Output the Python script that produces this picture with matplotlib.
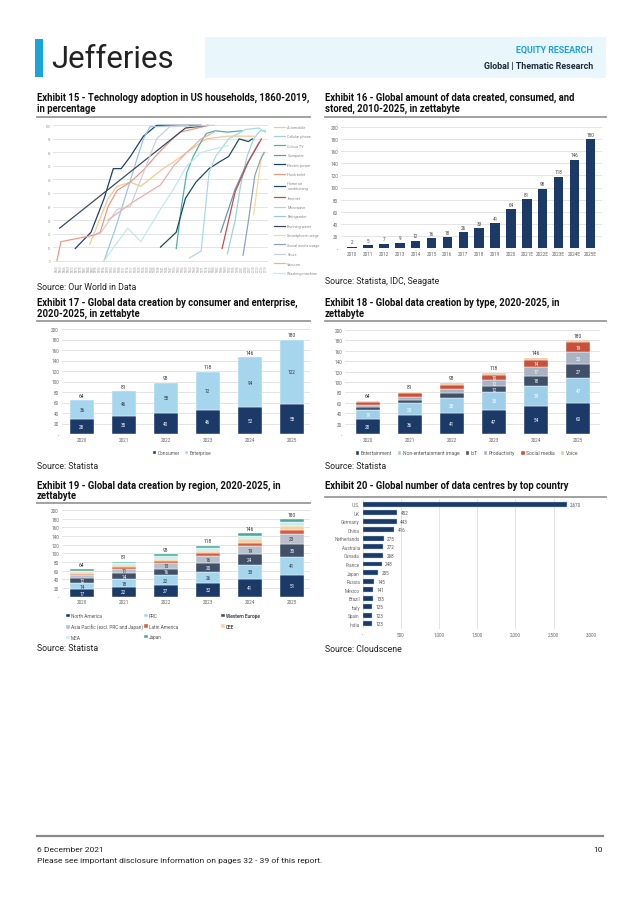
import numpy as np
import matplotlib
matplotlib.use('Agg')
import matplotlib.pyplot as plt
from matplotlib.patches import Rectangle
from matplotlib.lines import Line2D

W, H = 638, 903
plt.rcParams['font.family'] = ['Roboto', 'DejaVu Sans']

NAVY = '#1b3a68'
LBLUE = '#a6d6ee'
SLATE = '#3f5068'
GRID = '#d9d9d9'
TICK = '#666666'

# ---- Exhibit 15: technology adoption (year, %) ----
tech_names = ['Automobile', 'Cellular phone', 'Colour TV', 'Computer', 'Electric power',
              'Flush toilet', 'Home air\nconditioning', 'Internet', 'Microwave', 'Refrigerator',
              'Running water', 'Smartphone usage', 'Social media usage', 'Stove', 'Vacuum',
              'Washing machine']
tech_colors = ['#f3c995', '#9ed6cf', '#4db3a6', '#6f93b8', '#1f3f6e', '#eb9a84', '#1d4b5f',
               '#c0504d', '#a7dce4', '#9cc5e2', '#3b4b5e', '#f2dc98', '#8fa3b8', '#cdd1d6',
               '#eab0aa', '#c4e8ec']
tech_data = [
    [(1885, 12), (1899, 46), (1906, 55), (1916, 58), (1924, 55), (1941, 68), (1949, 73), (1959, 80), (1974, 90), (1990, 92), (2010, 92)],
    [(1990, 5), (1996, 30), (2000, 55), (2005, 77), (2010, 90), (2015, 96), (2019, 96)],
    [(1951, 9), (1955, 40), (1959, 65), (1964, 77), (1970, 88), (1974, 94), (1981, 96), (1990, 95), (2001, 96)],
    [(1985, 21), (1996, 53), (2004, 70), (2014, 87)],
    [(1874, 9), (1886, 21), (1896, 46), (1903, 68), (1909, 68), (1916, 77), (1926, 92), (1936, 100), (1970, 100)],
    [(1860, 0), (1863, 14), (1889, 19), (1893, 21), (1899, 40), (1906, 52), (1916, 58), (1926, 67), (1936, 78), (1946, 88), (1954, 95), (1976, 100)],
    [(1939, 10), (1951, 21), (1958, 46), (1966, 58), (1976, 68), (1984, 73), (1991, 77), (1999, 90), (2006, 88), (2009, 90)],
    [(1986, 9), (1996, 51), (2006, 73), (2016, 90)],
    [(1961, 2), (1970, 7), (1976, 65), (1981, 77), (1991, 90), (2004, 97), (2014, 98), (2019, 95)],
    [(1896, 0), (1905, 25), (1914, 53), (1921, 75), (1926, 90), (1931, 99), (1960, 100)],
    [(1862, 24), (1958, 98), (1975, 100)],
    [(2010, 34), (2014, 63), (2016, 77), (2019, 80)],
    [(2002, 4), (2006, 29), (2011, 63), (2015, 74), (2018, 80)],
    [(1893, 20), (1906, 38), (1916, 40), (1926, 65), (1936, 90), (1946, 99), (1980, 100)],
    [(1899, 30), (1916, 42), (1929, 50), (1939, 56), (1949, 70), (1959, 80), (1970, 90), (1980, 95)],
    [(1896, 0), (1914, 24), (1924, 14), (1939, 38), (1949, 53), (1959, 70), (1970, 80), (1990, 85)],
]

# ---- Exhibit 16 ----
e16_years = ['2010', '2011', '2012', '2013', '2014', '2015', '2016', '2017', '2018', '2019',
             '2020', '2021E', '2022E', '2023E', '2024E', '2025E']
e16_vals = [2, 5, 7, 9, 12, 16, 18, 26, 33, 41, 64, 81, 98, 118, 146, 180]

# ---- Exhibit 17 ----
years6 = ['2020', '2021', '2022', '2023', '2024', '2025']
consumer = [28, 35, 40, 46, 52, 58]
enterprise = [36, 46, 58, 72, 94, 122]

# ---- Exhibit 18 ----
e18_names = ['Entertainment', 'Non-entertainment image', 'IoT', 'Productivity', 'Social media', 'Voice']
e18_colors = [NAVY, '#9fcfe8', SLATE, '#a9b3c1', '#c9503a', '#e9c99b']
e18_txt = ['white', 'white', 'white', 'white', 'white', '#333333']
entertainment = [28, 36, 41, 47, 54, 60]
non_ent_image = [19, 23, 28, 33, 39, 47]
iot = [4, 6, 9, 12, 18, 27]
productivity = [5, 6, 8, 12, 17, 23]
social_media = [5, 7, 8, 10, 14, 19]
voice = [3, 3, 4, 4, 4, 4]

# ---- Exhibit 19 ----
e19_names = ['North America', 'PRC', 'Western Europe', 'Asia Pacific (excl. PRC and Japan)',
             'Latin America', 'CEE', 'MEA', 'Japan']
e19_colors = [NAVY, '#a6d6ee', SLATE, '#b9c0cb', '#d95b3b', '#f4d2a2', '#c9eef0', '#4aa894']
e19_txt = ['white', '#333333', 'white', '#333333', 'white', '#333333', '#333333', 'white']
north_america = [17, 22, 27, 32, 41, 51]
prc = [14, 18, 22, 26, 33, 41]
western_europe = [12, 14, 16, 20, 24, 30]
apj = [7, 11, 13, 16, 19, 23]
latin_america = [3, 4, 5, 6, 7, 9]
cee = [3, 4, 5, 6, 8, 9]
mea = [4, 4, 5, 6, 7, 9]
japan = [4, 4, 5, 6, 7, 8]

# ---- Exhibit 20 ----
countries = ['U.S.', 'UK', 'Germany', 'China', 'Netherlands', 'Australia', 'Canada', 'France',
             'Japan', 'Russia', 'Mexico', 'Brazil', 'Italy', 'Spain', 'India']
centres = [2670, 452, 443, 416, 275, 272, 268, 248, 205, 145, 141, 133, 125, 123, 123]

fig = plt.figure(figsize=(W / 100, H / 100), dpi=100)


def box(x0, y0, x1, y1):
    return fig.add_axes([x0 / W, 1 - y1 / H, (x1 - x0) / W, (y1 - y0) / H])


def txt(x, y, s, **kw):
    fig.text(x / W, 1 - y / H, s, **kw)


def rect(x0, y0, x1, y1, c):
    fig.add_artist(Rectangle((x0 / W, 1 - y1 / H), (x1 - x0) / W, (y1 - y0) / H,
                             transform=fig.transFigure, color=c, lw=0))


def hline(x0, x1, y, c='#9a9a9a', lw=1.3):
    fig.add_artist(Line2D([x0 / W, x1 / W], [1 - y / H, 1 - y / H], transform=fig.transFigure,
                          color=c, lw=lw))


def title(x, y, s):
    txt(x, y, s, fontsize=6.85, fontweight='bold', va='top', color='#111111', linespacing=1.05)


def source(x, y, s):
    txt(x, y, s, fontsize=6.3, va='center', color='#222222')


def clean(ax):
    for s in ax.spines.values():
        s.set_visible(False)
    ax.tick_params(length=0, labelsize=3.3, labelcolor=TICK, pad=2)


def ylab(ax, top):
    ticks = list(range(0, top + 1, 20))
    ax.set_yticks(ticks)
    ax.set_yticklabels(['-'] + [str(t) for t in ticks[1:]])
    ax.set_ylim(0, top)
    ax.yaxis.grid(True, color=GRID, lw=0.5)
    ax.set_axisbelow(True)


def stacked(ax, series, colors, names, tcols, minlab):
    x = np.arange(len(years6))
    bottom = np.zeros(len(years6))
    for vals, c, n, tc in zip(series, colors, names, tcols):
        vals = np.array(vals, dtype=float)
        ax.bar(x, vals, 0.58, bottom=bottom, color=c, label=n, edgecolor='white', lw=0.3)
        for xi, b, v in zip(x, bottom, vals):
            if v >= minlab:
                ax.text(xi, b + v / 2, '%d' % v, ha='center', va='center', fontsize=3.3, color=tc)
        bottom += vals
    for xi, t in zip(x, bottom):
        ax.text(xi, t + 5, '%d' % t, ha='center', va='bottom', fontsize=3.5, color='#333333')
    ax.set_xticks(x)
    ax.set_xticklabels(years6)


LEG = dict(frameon=False, handlelength=0.7, handleheight=0.7, borderpad=0,
           handletextpad=0.3, labelcolor='#555555', bbox_transform=fig.transFigure)

# ---- header ----
rect(35, 40, 43, 78, '#1ba3dc')
txt(51, 60, 'Jefferies', fontsize=22.5, va='center', color='#222222')
rect(205, 38, 606, 79, '#e9f6fc')
txt(593, 50, 'EQUITY RESEARCH', fontsize=6.4, fontweight='bold', ha='right', va='center', color='#1ba3dc')
txt(593, 66, 'Global | Thematic Research', fontsize=6.4, fontweight='bold', ha='right', va='center', color='#1d2b3a')

# ---- Exhibit 15 ----
title(37, 93, 'Exhibit 15 - Technology adoption in US households, 1860-2019,\nin percentage')
hline(37, 310, 118)
ax = box(53, 125, 268, 263)
for pts, c, n in zip(tech_data, tech_colors, tech_names):
    ax.plot([p[0] for p in pts], [p[1] for p in pts], color=c, lw=0.9, label=n)
ax.set_xlim(1857, 2021)
ax.set_ylim(-1, 101)
ax.set_yticks(range(0, 101, 10))
ax.set_xticks(range(1860, 2020, 3))
ax.set_xticklabels([str(v) for v in range(1860, 2020, 3)], rotation=90)
ax.yaxis.grid(True, color=GRID, lw=0.5)
clean(ax)
ax.tick_params(labelsize=2.2, labelcolor='#999999', pad=1.5)
ax.legend(loc='upper left', bbox_to_anchor=(272 / W, 1 - 124 / H), bbox_transform=fig.transFigure,
          fontsize=2.7, frameon=False, handlelength=3, labelspacing=1.45, labelcolor='#8a8a8a',
          borderpad=0, handletextpad=0.6)
source(37, 287, 'Source: Our World in Data')

# ---- Exhibit 16 ----
title(325, 93, 'Exhibit 16 - Global amount of data created, consumed, and\nstored, 2010-2025, in zettabyte')
hline(325, 606, 118)
ax = box(341, 128, 601.5, 249)
x = np.arange(len(e16_years))
ax.bar(x, e16_vals, 0.6, color=NAVY)
for xi, v in zip(x, e16_vals):
    ax.text(xi, v + 4, str(v), ha='center', va='bottom', fontsize=3.3, color='#444444')
ax.set_xticks(x)
ax.set_xticklabels(e16_years)
ax.set_xlim(-0.7, 15.7)
ylab(ax, 200)
clean(ax)
source(325, 282, 'Source: Statista, IDC, Seagate')

# ---- Exhibit 17 ----
title(37, 298, 'Exhibit 17 - Global data creation by consumer and enterprise,\n2020-2025, in zettabyte')
hline(37, 310, 322)
ax = box(61.7, 330, 310, 435)
stacked(ax, [consumer, enterprise], [NAVY, LBLUE], ['Consumer', 'Enterprise'], ['white', '#333333'], 0)
ax.set_xlim(-0.48, 5.43)
ylab(ax, 200)
clean(ax)
ax.legend(loc='upper center', bbox_to_anchor=(182 / W, 1 - 449 / H), ncol=2, fontsize=3.4,
          columnspacing=1.0, **LEG)
source(37, 467, 'Source: Statista')

# ---- Exhibit 18 ----
title(325, 298, 'Exhibit 18 - Global data creation by type, 2020-2025, in\nzettabyte')
hline(325, 606, 322)
ax = box(345, 331, 600, 435)
stacked(ax, [entertainment, non_ent_image, iot, productivity, social_media, voice],
        e18_colors, e18_names, e18_txt, 10)
ax.set_xlim(-0.54, 5.52)
ylab(ax, 200)
clean(ax)
ax.legend(loc='upper center', bbox_to_anchor=(467 / W, 1 - 449 / H), ncol=6, fontsize=3.6,
          columnspacing=1.2, **LEG)
source(325, 467, 'Source: Statista')

# ---- Exhibit 19 ----
title(37, 480.5, 'Exhibit 19 - Global data creation by region, 2020-2025, in\nzettabyte')
hline(37, 310, 504)
ax = box(61.7, 511, 310, 597.7)
stacked(ax, [north_america, prc, western_europe, apj, latin_america, cee, mea, japan],
        e19_colors, e19_names, e19_txt, 11)
ax.set_xlim(-0.48, 5.43)
ylab(ax, 200)
clean(ax)
hs, ls = ax.get_legend_handles_labels()
cols = [[0, 3, 6], [1, 4, 7], [2, 5]]
for cx, idx in zip([64, 142, 219], cols):
    lg = ax.legend([hs[i] for i in idx], [ls[i] for i in idx], loc='upper left',
                   bbox_to_anchor=(cx / W, 1 - 612 / H), fontsize=3.4, labelspacing=1.15, **LEG)
    ax.add_artist(lg)
source(37, 649, 'Source: Statista')

# ---- Exhibit 20 ----
title(325, 481.5, 'Exhibit 20 - Global number of data centres by top country')
hline(325, 606, 498)
ax = box(362.7, 500, 591.7, 630)
y = np.arange(len(countries))
ax.barh(y, centres, 0.58, color=NAVY, edgecolor='#a9c6e6', lw=0.3)
for yi, v in zip(y, centres):
    ax.text(v + 45, yi, f'{v:,}', ha='left', va='center', fontsize=3.3, color='#555555')
ax.set_yticks(y)
ax.set_yticklabels(countries)
ax.set_ylim(14.6, -0.6)
ax.set_xlim(0, 3000)
ax.set_xticks(range(0, 3001, 500))
ax.set_xticklabels(['-'] + [f'{v:,}' for v in range(500, 3001, 500)])
ax.xaxis.grid(True, color=GRID, lw=0.5)
ax.set_axisbelow(True)
clean(ax)
source(325, 650, 'Source: Cloudscene')

# ---- footer ----
hline(37, 603, 837, c='#8a8a8a', lw=1.6)
txt(37, 850, '6 December 2021', fontsize=6.1, va='center', color='#222222')
txt(603, 850, '10', fontsize=6.1, va='center', ha='right', color='#222222')
txt(37, 861, 'Please see important disclosure information on pages 32 - 39 of this report.',
    fontsize=6.1, va='center', color='#222222')

fig.savefig('out.png', dpi=100)
